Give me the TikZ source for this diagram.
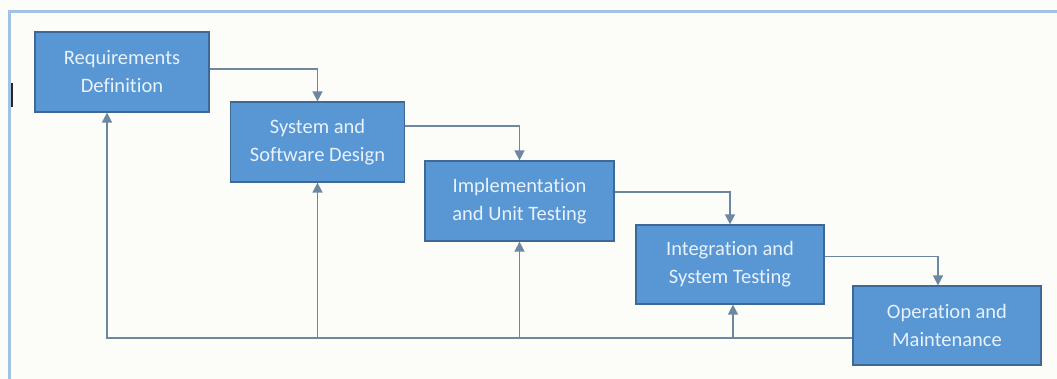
\documentclass[tikz,border=0pt]{standalone}
\usepackage{fontspec}
\setmainfont{Carlito}[RawFeature=-liga]
\usetikzlibrary{arrows.meta,calc}
\definecolor{boxfill}{RGB}{88,150,212}
\definecolor{boxedge}{RGB}{62,105,150}
\definecolor{linec}{RGB}{110,135,160}
\definecolor{framec}{RGB}{160,195,228}
\definecolor{bgc}{RGB}{252,253,248}
\definecolor{txtc}{RGB}{232,242,250}
\tikzset{
  phase/.style={draw=boxedge, line width=1.3pt, fill=boxfill, text=txtc,
    align=center, inner sep=0pt, font=\fontsize{20.5}{28}\selectfont},
  arr/.style={draw=linec, line width=1.6pt, -{Triangle[width=10pt,length=10pt]}},
  plain/.style={draw=linec, line width=1.6pt}
}
\begin{document}
\begin{tikzpicture}[x=1pt,y=-1pt]
\fill[bgc] (0,0) rectangle (1057,379);
\useasboundingbox (0,0) rectangle (1057,379);
% frame
\draw[framec, line width=3pt] (9,385) -- (9,12) -- (1065,12);
% cursor mark
\draw[black!85, line width=1.4pt] (12,83) -- (12,107);
% boxes
\node[phase, minimum width=174pt, minimum height=80pt] (b1) at (122,72) {Requirements\\Definition};
\node[phase, minimum width=174pt, minimum height=80pt] (b2) at (317.5,142) {System and\\Software Design};
\node[phase, minimum width=189pt, minimum height=80pt] (b3) at (519.5,201) {Implementation\\and Unit Testing};
\node[phase, minimum width=188pt, minimum height=79pt] (b4) at (730,264.5) {Integration and\\System Testing};
\node[phase, minimum width=188pt, minimum height=79pt] (b5) at (947,325.5) {Operation and\\Maintenance};
% forward flow
\draw[arr] ([yshift=3pt]b1.east) -| (b2.north);
\draw[arr] ([yshift=16pt]b2.east) -| (b3.north);
\draw[arr] ([yshift=9pt]b3.east) -| (b4.north);
\draw[arr] ([yshift=8pt]b4.east) -| ([xshift=-9pt]b5.north);
% feedback
\coordinate (fb) at (107,338);
\draw[arr] ([yshift=-12.5pt]b5.west) -| ([xshift=-15pt]b1.south);
\draw[arr] (b2.south |- fb) -- (b2.south);
\draw[arr] (b3.south |- fb) -- (b3.south);
\draw[arr] ([xshift=3pt]b4.south |- fb) -- ([xshift=3pt]b4.south);
\end{tikzpicture}
\end{document}
